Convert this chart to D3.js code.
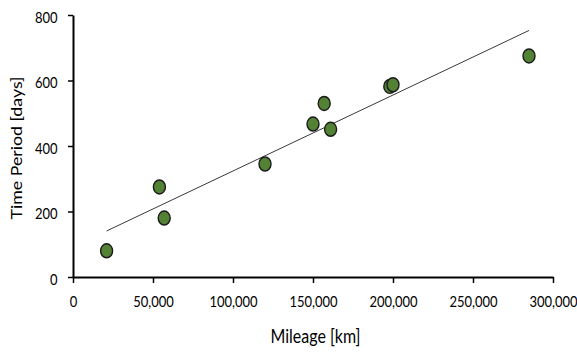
<!DOCTYPE html>
<html>
<head>
<meta charset="utf-8">
<script src="https://cdn.jsdelivr.net/npm/d3@7"></script>
<style>
  html, body { margin: 0; padding: 0; background: #fff; }
  svg { display: block; font-family: Lato, "Open Sans", sans-serif; }
</style>
</head>
<body>
<svg id="chart" width="577" height="352"></svg>
<script>
// Vehicle mileage vs. time period observations
const mileageKm = [21000, 54000, 57000, 120000, 150000, 157000, 161000, 198000, 200000, 285000];
const periodDays = [80, 275, 180, 345, 467, 530, 451, 582, 587, 675];
const xTicks = [0, 50000, 100000, 150000, 200000, 250000, 300000];
const yTicks = [0, 200, 400, 600, 800];

const svg = d3.select("#chart");
const margin = { left: 73, right: 24, top: 15, bottom: 75 };
const W = 577, H = 352;
const FONT = "Lato, 'Open Sans', sans-serif";
const stretchY = 1.25; // tall, slightly condensed lettering

const x = d3.scaleLinear().domain([0, 300000]).range([margin.left, W - margin.right]);
const y = d3.scaleLinear().domain([0, 800]).range([H - margin.bottom, margin.top]);

// Axes
const xAxis = d3.axisBottom(x).tickValues(xTicks).tickSize(6).tickSizeOuter(0)
  .tickFormat(d3.format(","));
const yAxis = d3.axisLeft(y).tickValues(yTicks).tickSize(5).tickSizeOuter(0);

const gx = svg.append("g").attr("transform", `translate(0,${y(0)})`).call(xAxis);
const gy = svg.append("g").attr("transform", `translate(${x(0)},0)`).call(yAxis);

[gx, gy].forEach(g => {
  g.select(".domain").attr("stroke", "#000").attr("stroke-width", 2);
  g.selectAll(".tick line").attr("stroke", "#000").attr("stroke-width", 1.5);
  g.selectAll(".tick text").attr("fill", "#000").attr("font-size", 13)
    .attr("font-family", FONT);
});
gx.selectAll(".tick text")
  .attr("y", 0).attr("dy", 0)
  .attr("transform", `translate(0,29.7) scale(1,${stretchY})`);
gy.selectAll(".tick text")
  .attr("x", 0).attr("dy", 0)
  .attr("text-anchor", "end")
  .attr("transform", `translate(-15.5,7) scale(1,${stretchY})`);

// Least-squares trend line over the observed mileage range
const n = mileageKm.length;
const mx = d3.mean(mileageKm), my = d3.mean(periodDays);
let sxy = 0, sxx = 0;
for (let i = 0; i < n; i++) {
  sxy += (mileageKm[i] - mx) * (periodDays[i] - my);
  sxx += (mileageKm[i] - mx) ** 2;
}
const slope = sxy / sxx, intercept = my - slope * mx;
const [xMin, xMax] = d3.extent(mileageKm);

svg.append("line")
  .attr("x1", x(xMin)).attr("y1", y(intercept + slope * xMin))
  .attr("x2", x(xMax)).attr("y2", y(intercept + slope * xMax))
  .attr("stroke", "#3a3a3a").attr("stroke-width", 1);

// Data points
svg.append("g").selectAll("ellipse")
  .data(mileageKm.map((m, i) => ({ m, d: periodDays[i] })))
  .join("ellipse")
  .attr("cx", d => x(d.m))
  .attr("cy", d => y(d.d))
  .attr("rx", 6).attr("ry", 7)
  .attr("fill", "#548235")
  .attr("stroke", "#1a1a1a").attr("stroke-width", 1.4);

// Axis titles
svg.append("text")
  .attr("transform", `translate(${(x(0) + x(300000)) / 2 + 2.5},343) scale(1,1.22)`)
  .attr("text-anchor", "middle").attr("font-size", 16).attr("fill", "#000")
  .text("Mileage [km]");

svg.append("text")
  .attr("transform", `translate(21.5,148) rotate(-90) scale(1.11,1)`)
  .attr("text-anchor", "middle").attr("font-size", 16).attr("fill", "#000")
  .text("Time Period [days]");
</script>
</body>
</html>
